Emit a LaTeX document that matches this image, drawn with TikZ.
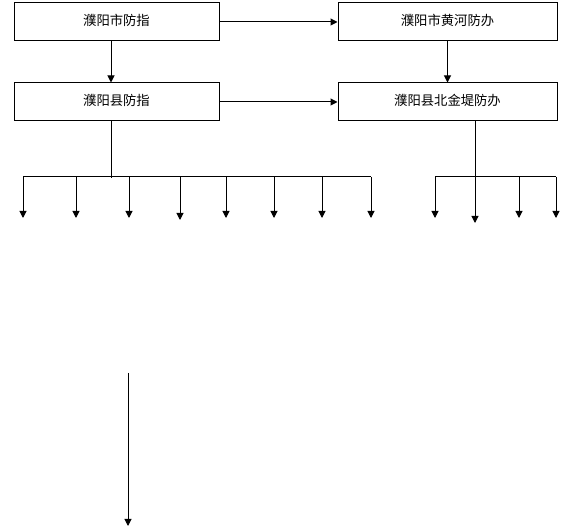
\documentclass[tikz,border=0pt]{standalone}
\usepackage{fontspec}
\newfontfamily\cjk{Noto Sans CJK SC}
\usetikzlibrary{arrows.meta}
\begin{document}
\begin{tikzpicture}[x=0.75pt,y=-0.75pt,
  box/.style={draw,line width=0.75pt,minimum width=153.75pt,minimum height=28.5pt,inner sep=0pt,font=\cjk\fontsize{10pt}{11pt}\selectfont},
  wide/.style={box,minimum width=164.25pt},
  ln/.style={line width=0.75pt},
  arr/.style={ln,-{Triangle[length=5.25pt,width=5.25pt]}},
  lbl/.style={font=\cjk\fontsize{10pt}{11pt}\selectfont,inner sep=0pt}]
\useasboundingbox (0,0) rectangle (576,530);
\node[box] (b1) at (116.5,22) {};
\node[wide] (b2) at (447.5,22) {};
\node[box] (b3) at (116.5,102) {};
\node[wide] (b4) at (447.5,102) {};
\node[lbl] (t1) at ([yshift=1.5pt]b1.center) {濮阳市防指};
\node[lbl] (t2) at ([yshift=1.5pt]b2.center) {濮阳市黄河防办};
\node[lbl] (t3) at ([yshift=1.5pt]b3.center) {濮阳县防指};
\node[lbl] (t4) at ([yshift=1.5pt]b4.center) {濮阳县北金堤防办};
\draw[arr] (b1.east) -- (b2.west);
\draw[arr] (b3.east) -- (b4.west);
\draw[arr] (b1.south -| 111,0) -- (b3.north -| 111,0);
\draw[arr] (b2.south) -- (b4.north);
% left branch
\coordinate (ls) at (111,178);
\draw[ln] (b3.south -| ls) -- (ls);
\coordinate (l1) at (23,177);
\coordinate (l8) at (371,177);
\draw[ln] (l1) -- (l8);
\foreach \x/\e in {23/218,76/218,129/218,180/220,226/218,274/218,322/218,371/218}{
  \coordinate (lt\x) at (\x,177);
  \coordinate (le\x) at (\x,\e);
  \draw[arr] (lt\x) -- (le\x);
}
% right branch
\coordinate (r1) at (435,177);
\coordinate (r4) at (556,177);
\draw[ln] (r1) -- (r4);
\coordinate (re) at (475,223);
\draw[arr] (b4.south -| re) -- (re);
\foreach \x in {435,519,556}{
  \coordinate (rt\x) at (\x,177);
  \coordinate (rb\x) at (\x,218);
  \draw[arr] (rt\x) -- (rb\x);
}
% lone arrow
\coordinate (s) at (128,373);
\coordinate (t) at (128,526);
\draw[arr] (s) -- (t);
\end{tikzpicture}
\end{document}
